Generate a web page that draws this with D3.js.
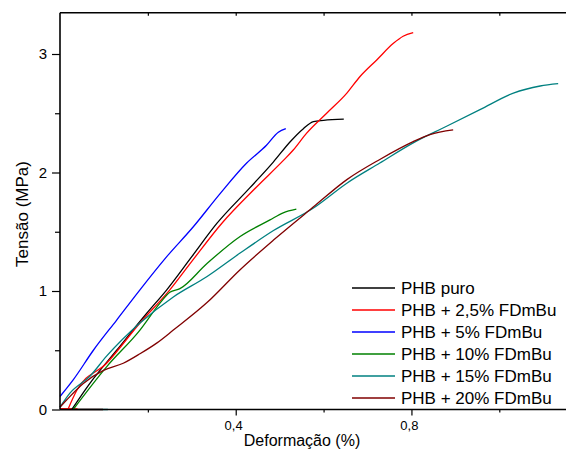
<!DOCTYPE html>
<html>
<head>
<meta charset="utf-8">
<script src="https://cdn.jsdelivr.net/npm/d3@7/dist/d3.min.js"></script>
<style>
  html, body { margin: 0; padding: 0; background: #fff; }
  svg { display: block; font-family: "Liberation Sans", Arial, sans-serif; }
</style>
</head>
<body>
<svg id="chart" width="566" height="452"></svg>
<script>
// Stress-strain curves (strain %, stress MPa)
const seriesNames = ["PHB puro", "PHB + 2,5% FDmBu", "PHB + 5% FDmBu", "PHB + 10% FDmBu", "PHB + 15% FDmBu", "PHB + 20% FDmBu"];
const seriesColors = ["#000000", "#ff0000", "#0000ff", "#008000", "#008080", "#800000"];

const puro = [[0.027,0.0],[0.068,0.22],[0.129,0.50],[0.197,0.81],[0.243,1.01],[0.300,1.29],[0.357,1.57],[0.432,1.87],[0.486,2.09],[0.524,2.26],[0.554,2.37],[0.577,2.43],[0.60,2.44],[0.646,2.45]];
const fd25 = [[0.018,0.0],[0.038,0.16],[0.106,0.39],[0.182,0.73],[0.25,1.01],[0.30,1.25],[0.368,1.57],[0.448,1.88],[0.508,2.10],[0.531,2.19],[0.561,2.33],[0.607,2.50],[0.653,2.67],[0.683,2.81],[0.721,2.95],[0.759,3.09],[0.781,3.15],[0.804,3.18]];
const fd5 = [[0.0,0.11],[0.030,0.25],[0.076,0.50],[0.129,0.755],[0.182,1.01],[0.243,1.29],[0.303,1.54],[0.364,1.82],[0.425,2.08],[0.470,2.23],[0.497,2.34],[0.514,2.37]];
const fd10 = [[0.030,0.0],[0.106,0.36],[0.182,0.67],[0.228,0.90],[0.25,0.99],[0.273,1.02],[0.334,1.23],[0.41,1.46],[0.478,1.60],[0.508,1.66],[0.538,1.69]];
const fd15 = [[0.0,0.02],[0.023,0.14],[0.068,0.28],[0.106,0.45],[0.182,0.73],[0.258,0.95],[0.334,1.12],[0.41,1.32],[0.486,1.51],[0.577,1.70],[0.653,1.91],[0.728,2.08],[0.804,2.25],[0.88,2.39],[0.956,2.53],[1.032,2.67],[1.093,2.73],[1.134,2.75]];
const fd20 = [[0.0,0.02],[0.015,0.08],[0.053,0.22],[0.099,0.33],[0.144,0.39],[0.182,0.47],[0.22,0.56],[0.258,0.67],[0.334,0.90],[0.41,1.18],[0.486,1.43],[0.577,1.71],[0.653,1.94],[0.728,2.11],[0.804,2.26],[0.842,2.32],[0.895,2.36]];
const seriesValues = [puro, fd25, fd5, fd10, fd15, fd20];

// Flat runs recorded at zero load
const zeroRuns = [
  { color: "#008080", pts: [[0.0,0.0],[0.109,0.0]] },
  { color: "#800000", pts: [[0.0,0.0],[0.098,0.0]] },
  { color: "#ff0000", pts: [[0.0,0.005],[0.04,0.003]] }
];

const xMajorTicks = [0.4, 0.8];
const xMinorTicks = [0.2, 0.6, 1.0];
const yMajorTicks = [0, 1, 2, 3];
const yMinorTicks = [0.5, 1.5, 2.5];
const fmtX = d => String(d).replace(".", ",");

const svg = d3.select("#chart");
const plotLeft = 60, plotBottom = 409.5, plotTop = 12.7;

const x = d3.scaleLinear().domain([0, 1.2]).range([plotLeft, plotLeft + 1.2 * 439.3]);
const y = d3.scaleLinear().domain([0, 3]).range([plotBottom, plotBottom - 3 * 118.5]);

const line = d3.line().x(d => x(d[0])).y(d => y(d[1]));
const smooth = d3.line().x(d => x(d[0])).y(d => y(d[1])).curve(d3.curveMonotoneX);

// curves
const plot = svg.append("g");
zeroRuns.forEach(r => {
  plot.append("path").attr("d", line(r.pts)).attr("fill", "none")
    .attr("stroke", r.color).attr("stroke-width", 1.6);
});
seriesValues.forEach((s, i) => {
  plot.append("path").attr("d", smooth(s)).attr("fill", "none")
    .attr("stroke", seriesColors[i]).attr("stroke-width", 1.3)
    .attr("stroke-linejoin", "round");
});

// axes
const axisStyle = g => {
  g.select(".domain").remove();
  g.selectAll("line").attr("stroke", "#000").attr("stroke-width", 1.2);
  g.selectAll("text").attr("fill", "#000");
};

svg.append("g").attr("transform", `translate(0,${plotBottom})`)
  .call(d3.axisBottom(x).tickValues(xMajorTicks).tickSize(6).tickPadding(12).tickFormat(fmtX))
  .call(axisStyle)
  .call(g => g.selectAll("text").attr("font-size", 13).attr("dx", "-0.2em").attr("dy", "0.2em"));
svg.append("g").attr("transform", `translate(0,${plotBottom})`)
  .call(d3.axisBottom(x).tickValues(xMinorTicks).tickSize(3).tickFormat(""))
  .call(axisStyle);
svg.append("g").attr("transform", `translate(0,${plotTop})`)
  .call(d3.axisBottom(x).tickValues(xMajorTicks.concat(xMinorTicks)).tickSize(3).tickFormat(""))
  .call(axisStyle);

svg.append("g").attr("transform", `translate(${plotLeft},0)`)
  .call(d3.axisLeft(y).tickValues(yMajorTicks).tickSize(8).tickPadding(5).tickFormat(d3.format("d")))
  .call(axisStyle)
  .call(g => g.selectAll("text").attr("font-size", 15));
svg.append("g").attr("transform", `translate(${plotLeft},0)`)
  .call(d3.axisLeft(y).tickValues(yMinorTicks).tickSize(5).tickFormat(""))
  .call(axisStyle);

// frame lines
svg.append("line").attr("x1", plotLeft).attr("x2", 566).attr("y1", plotBottom).attr("y2", plotBottom)
  .attr("stroke", "#000").attr("stroke-width", 1.6);
svg.append("line").attr("x1", plotLeft).attr("x2", 566).attr("y1", plotTop).attr("y2", plotTop)
  .attr("stroke", "#000").attr("stroke-width", 1.6);
svg.append("line").attr("x1", plotLeft).attr("x2", plotLeft).attr("y1", plotTop).attr("y2", plotBottom)
  .attr("stroke", "#000").attr("stroke-width", 1.6);

// axis titles
svg.append("text").attr("x", 302).attr("y", 446).attr("text-anchor", "middle")
  .attr("font-size", 16).text("Deformação (%)");
svg.append("text").attr("transform", "translate(28,214) rotate(-90)").attr("text-anchor", "middle")
  .attr("font-size", 17).text("Tensão (MPa)");

// legend
const legend = svg.append("g");
seriesNames.forEach((name, i) => {
  const ly = 288 + i * 22;
  legend.append("line").attr("x1", 352).attr("x2", 395).attr("y1", ly).attr("y2", ly)
    .attr("stroke", seriesColors[i]).attr("stroke-width", 1.4);
  legend.append("text").attr("x", 401).attr("y", ly + 6).attr("font-size", 17).text(name);
});
</script>
</body>
</html>
